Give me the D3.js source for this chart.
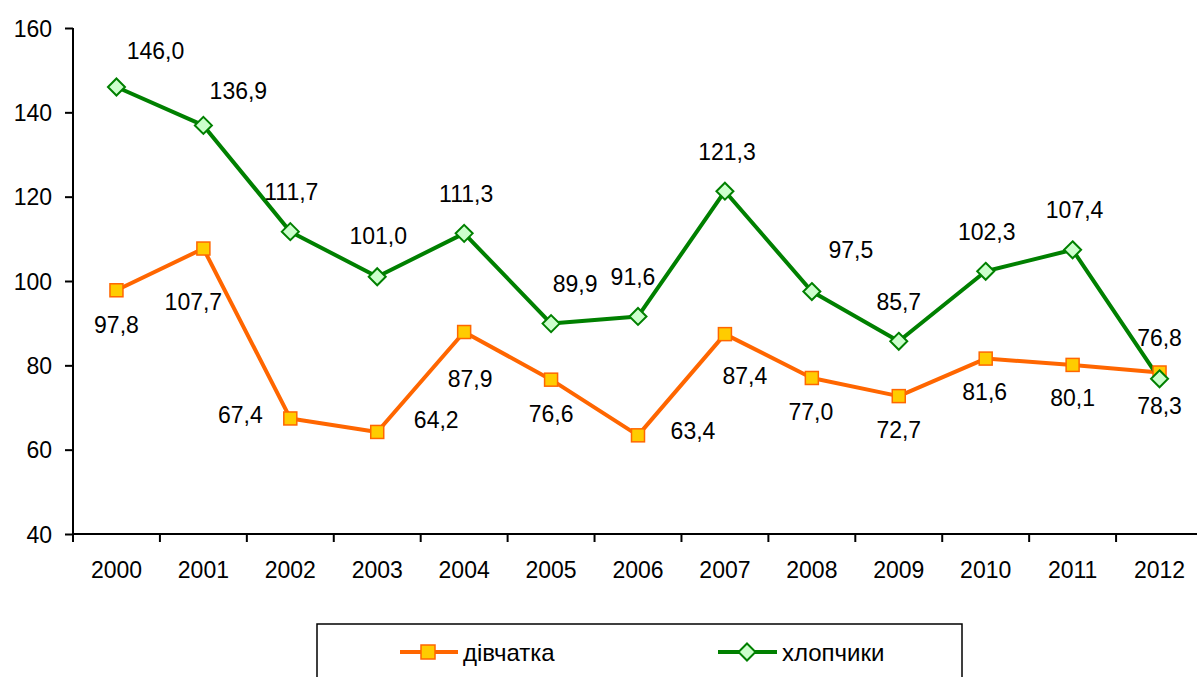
<!DOCTYPE html>
<html>
<head>
<meta charset="utf-8">
<script src="https://cdn.jsdelivr.net/npm/d3@7"></script>
<style>
  html, body { margin: 0; padding: 0; background: #fff; }
  svg { display: block; }
  text { font-family: "Liberation Sans", Arial, sans-serif; fill: #000; }
</style>
</head>
<body>
<svg id="chart" width="1197" height="677"></svg>
<script>
// ---- data ----
const years = ["2000","2001","2002","2003","2004","2005","2006","2007","2008","2009","2010","2011","2012"];
const girls = [97.8, 107.7, 67.4, 64.2, 87.9, 76.6, 63.4, 87.4, 77.0, 72.7, 81.6, 80.1, 78.3];
const boys  = [146.0, 136.9, 111.7, 101.0, 111.3, 89.9, 91.6, 121.3, 97.5, 85.7, 102.3, 107.4, 76.8];
const yTicks = [40, 60, 80, 100, 120, 140, 160];
const seriesNames = ["дівчатка", "хлопчики"];

// ---- label placement (layout only, px offsets from the point) ----
const girlsLabelOffsets = [[0,34],[-10,53],[-50,-4],[59,-12],[6,47],[0,34],[55,-5],[20,42],[-1,34],[0,34],[-1,33],[0,33],[0,33]];
const boysLabelOffsets  = [[39,-36],[35,-35],[1,-40],[1,-41],[2,-40],[24,-40],[-5,-40],[2,-39],[39,-42],[0,-40],[1,-40],[2,-40],[0,-41]];

(function () {
const svg = d3.select("#chart");
const mLeft = 73, mRight = 1203, mTop = 28, mBottom = 534;
const fontSize = 23;

const x = d3.scaleBand().domain(years).range([mLeft, mRight]).padding(0);
const y = d3.scaleLinear().domain([40, 160]).range([mBottom, mTop]);
const cx = d => x(d) + x.bandwidth() / 2;

const fmt = v => d3.format(".1f")(v).replace(".", ",");

// ---- axes ----
const yAxis = d3.axisLeft(y).tickValues(yTicks).tickSize(8).tickPadding(13).tickFormat(d3.format("d"));
const gy = svg.append("g").attr("transform", `translate(${mLeft},0)`).call(yAxis);
gy.select(".domain").attr("stroke", "#000").attr("stroke-width", 2).attr("d", `M0,${mTop}V${mBottom}`);
gy.selectAll(".tick line").attr("stroke", "#000").attr("stroke-width", 2);
gy.selectAll(".tick text").style("font-size", fontSize + "px").attr("font-family", "Liberation Sans, Arial, sans-serif").attr("fill", "#000").attr("dy", "0.36em");

const xAxis = d3.axisBottom(x).tickSize(0).tickPadding(0);
const gx = svg.append("g").attr("transform", `translate(0,${mBottom})`).call(xAxis);
gx.select(".domain").attr("stroke", "#000").attr("stroke-width", 2).attr("d", `M${mLeft},0H1197`);
gx.selectAll(".tick text").style("font-size", fontSize + "px").attr("font-family", "Liberation Sans, Arial, sans-serif").attr("fill", "#000").attr("y", 44).attr("dy", 0);
// boundary ticks between categories
const boundaries = years.map(d => x(d)).concat([x(years[years.length-1]) + x.bandwidth()]);
gx.selectAll("line.bt").data(boundaries).enter().append("line")
  .attr("class", "bt")
  .attr("x1", d => d).attr("x2", d => d)
  .attr("y1", 0).attr("y2", 8)
  .attr("stroke", "#000").attr("stroke-width", 2);

// ---- lines ----
const line = d3.line().x((d, i) => cx(years[i])).y(d => y(d));

svg.append("path").datum(girls).attr("d", line)
  .attr("fill", "none").attr("stroke", "#FF6600").attr("stroke-width", 4).attr("stroke-linejoin", "round");
svg.append("path").datum(boys).attr("d", line)
  .attr("fill", "none").attr("stroke", "#008000").attr("stroke-width", 4).attr("stroke-linejoin", "round");

// markers
const sq = 13;
svg.selectAll("rect.girl").data(girls).enter().append("rect")
  .attr("class", "girl")
  .attr("x", (d, i) => cx(years[i]) - sq/2)
  .attr("y", d => y(d) - sq/2)
  .attr("width", sq).attr("height", sq)
  .attr("fill", "#FFCC00").attr("stroke", "#FF6600").attr("stroke-width", 1.5);

const dr = 8.5;
const diamond = (px, py, r) => `M${px},${py-r}L${px+r},${py}L${px},${py+r}L${px-r},${py}Z`;
svg.selectAll("path.boy").data(boys).enter().append("path")
  .attr("class", "boy")
  .attr("d", (d, i) => diamond(cx(years[i]), y(d), dr))
  .attr("fill", "#CCFFCC").attr("stroke", "#008000").attr("stroke-width", 2);

// data labels
function labels(data, offs, cls) {
  svg.selectAll("text." + cls).data(data).enter().append("text")
    .attr("class", cls)
    .attr("x", (d, i) => cx(years[i]) + offs[i][0])
    .attr("y", (d, i) => y(d) + offs[i][1])
    .attr("dy", "0.36em")
    .attr("text-anchor", "middle")
    .style("font-size", fontSize + "px")
    .text(d => fmt(d));
}
labels(girls, girlsLabelOffsets, "gl");
labels(boys, boysLabelOffsets, "bl");

// ---- legend ----
const lg = svg.append("g");
lg.append("rect").attr("x", 317).attr("y", 624).attr("width", 645).attr("height", 80)
  .attr("fill", "none").attr("stroke", "#000").attr("stroke-width", 1.5);
const ly = 652, lfs = 24;
lg.append("line").attr("x1", 400).attr("x2", 458).attr("y1", ly).attr("y2", ly)
  .attr("stroke", "#FF6600").attr("stroke-width", 4);
lg.append("rect").attr("x", 428 - 7).attr("y", ly - 7).attr("width", 14).attr("height", 14)
  .attr("fill", "#FFCC00").attr("stroke", "#FF6600").attr("stroke-width", 1.5);
lg.append("text").attr("x", 463).attr("y", ly).attr("dy", "0.36em").style("font-size", lfs + "px").text(seriesNames[0]);
lg.append("line").attr("x1", 718).attr("x2", 777).attr("y1", ly).attr("y2", ly)
  .attr("stroke", "#008000").attr("stroke-width", 4);
lg.append("path").attr("d", diamond(747, ly, 8.5)).attr("fill", "#CCFFCC").attr("stroke", "#008000").attr("stroke-width", 2);
lg.append("text").attr("x", 782).attr("y", ly).attr("dy", "0.36em").style("font-size", lfs + "px").text(seriesNames[1]);
})();
</script>
</body>
</html>
